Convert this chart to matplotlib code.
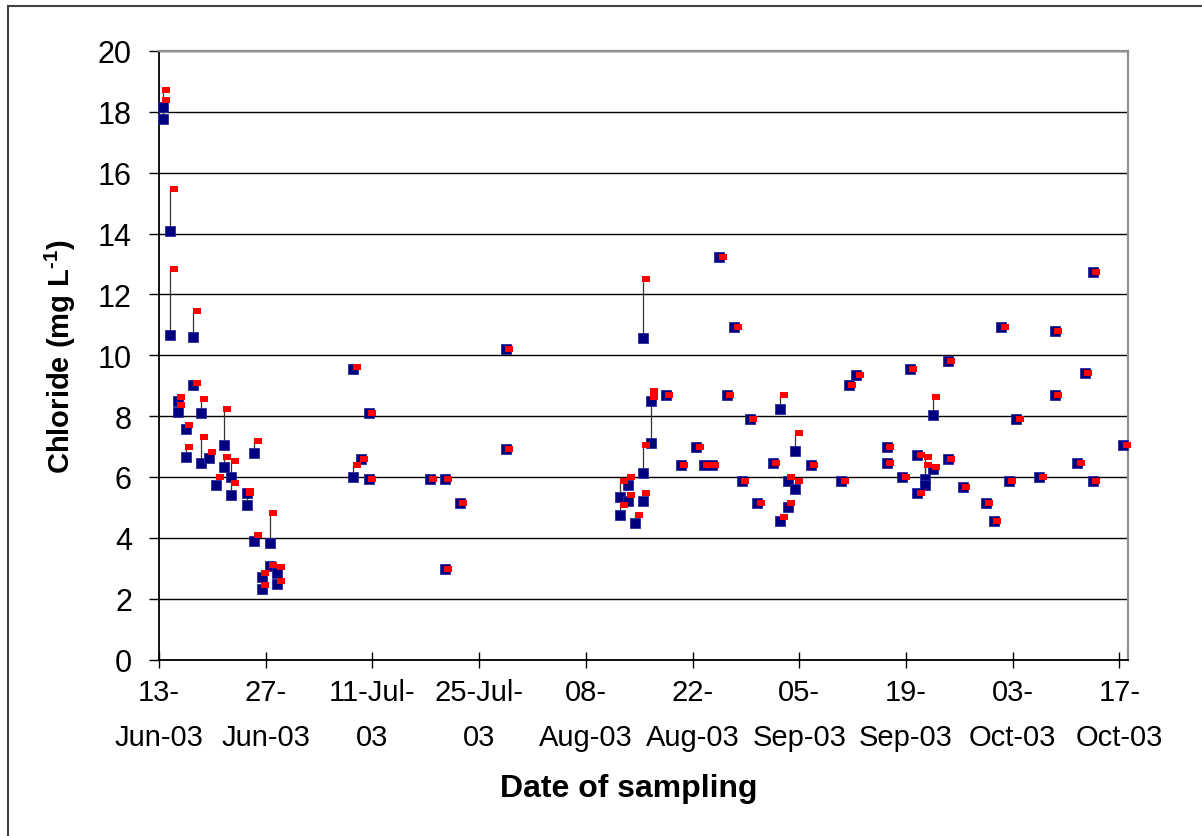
import matplotlib
matplotlib.use("Agg")
import matplotlib.pyplot as plt
import matplotlib.transforms as mtransforms
from matplotlib.patches import Rectangle

plt.rcParams["font.family"] = ["Liberation Sans", "DejaVu Sans"]
plt.rcParams["mathtext.fontset"] = "custom"
plt.rcParams["mathtext.rm"] = "Liberation Sans:bold"
plt.rcParams["mathtext.bf"] = "Liberation Sans:bold"

# days after 13-Jun-03, chloride of the two replicate sets (mg/L)
sample_day = [0.5, 0.5, 1.5, 1.5, 2.5, 2.5, 3.5, 3.5, 4.5, 4.5,
              5.5, 5.5, 6.5, 7.5, 8.5, 8.5, 9.5, 9.5, 11.5, 11.5,
              12.5, 12.5, 13.5, 13.5, 14.5, 14.5, 15.5, 15.5,
              25.5, 25.5, 26.5, 27.5, 27.5, 35.5, 37.5, 37.5, 39.5, 45.5, 45.5,
              60.5, 60.5, 61.5, 61.5, 62.5, 63.5, 63.5, 63.5, 64.5, 64.5,
              66.5, 68.5, 70.5, 71.5, 72.5, 73.5, 74.5, 75.5, 76.5, 77.5,
              78.5, 80.5, 81.5, 81.5, 82.5, 82.5, 83.5, 83.5, 85.5,
              89.5, 90.5, 91.5, 95.5, 95.5, 97.5, 98.5, 99.5, 99.5,
              100.5, 100.5, 101.5, 101.5, 103.5, 103.5, 105.5, 108.5, 109.5,
              110.5, 111.5, 112.5, 115.5, 117.5, 117.5, 120.5, 121.5,
              122.5, 122.5, 126.5]
cl_a = [18.15, 17.75, 14.08, 10.65, 8.48, 8.15, 7.58, 6.66, 10.59, 9.02,
        8.09, 6.45, 6.61, 5.73, 7.04, 6.33, 6.00, 5.40, 5.46, 5.08,
        6.78, 3.89, 2.72, 2.31, 3.82, 3.08, 2.83, 2.47,
        9.54, 6.00, 6.59, 8.09, 5.93, 5.93, 5.93, 2.97, 5.14, 10.20, 6.92,
        5.34, 4.75, 5.73, 5.20, 4.48, 10.58, 6.12, 5.20, 8.50, 7.10,
        8.69, 6.39, 6.98, 6.39, 6.39, 13.22, 8.69, 10.92, 5.87, 7.90,
        5.14, 6.46, 8.22, 4.55, 5.87, 5.01, 6.85, 5.60, 6.39,
        5.87, 9.02, 9.35, 6.98, 6.46, 6.00, 9.55, 6.72, 5.47,
        5.93, 5.73, 8.03, 6.26, 9.81, 6.59, 5.67, 5.14, 4.55,
        10.92, 5.87, 7.90, 6.00, 10.79, 8.69, 6.46, 9.41,
        12.75, 5.87, 7.05]
cl_b = [18.40, 18.73, 15.45, 12.82, 8.62, 8.36, 7.70, 6.97, 11.44, 9.08,
        8.55, 7.30, 6.81, 5.99, 8.22, 6.64, 6.51, 5.80, 5.55, 5.46,
        7.18, 4.09, 2.84, 2.46, 4.81, 3.10, 3.04, 2.58,
        9.60, 6.39, 6.60, 8.09, 5.93, 5.93, 5.93, 2.97, 5.14, 10.20, 6.92,
        5.87, 5.07, 6.00, 5.40, 4.75, 12.50, 7.05, 5.47, 8.83, 8.63,
        8.69, 6.39, 6.98, 6.39, 6.39, 13.22, 8.69, 10.92, 5.87, 7.90,
        5.14, 6.46, 8.69, 4.67, 6.00, 5.14, 7.44, 5.87, 6.39,
        5.87, 9.02, 9.35, 6.98, 6.46, 6.00, 9.55, 6.72, 5.47,
        6.65, 6.39, 8.62, 6.33, 9.81, 6.59, 5.67, 5.14, 4.55,
        10.92, 5.87, 7.90, 6.00, 10.79, 8.69, 6.46, 9.41,
        12.75, 5.87, 7.05]

tick_days = [0, 14, 28, 42, 56, 70, 84, 98, 112, 126]
tick_labels = ["13-\nJun-03", "27-\nJun-03", "11-Jul-\n03", "25-Jul-\n03",
               "08-\nAug-03", "22-\nAug-03", "05-\nSep-03", "19-\nSep-03",
               "03-\nOct-03", "17-\nOct-03"]

fig = plt.figure(figsize=(12.02, 8.37), dpi=100)
ax = fig.add_axes([159 / 1202, 1 - 660.5 / 837, (1127.7 - 159) / 1202, (660.5 - 52) / 837])

# thin connectors between the replicates
ax.vlines(sample_day, cl_a, cl_b, colors="#333333", linewidth=0.9, zorder=3)
ax.plot(sample_day, cl_a, linestyle="none", marker="s", markersize=6.9,
        color="#000080", markeredgecolor="#2a2a9a", markeredgewidth=0.6,
        zorder=4, clip_on=False)
red_shift = mtransforms.offset_copy(ax.transData, fig=fig, x=3.4, y=0, units="dots")
red_mark = [(-1, -0.7), (1, -0.7), (1, 0.7), (-1, 0.7), (-1, -0.7)]
ax.plot(sample_day, cl_b, linestyle="none", marker=red_mark, markersize=5.8,
        color="#ff0000", markeredgewidth=0, transform=red_shift, zorder=5, clip_on=False)

ax.set_xlim(0, 127.1)
ax.set_ylim(0, 20)
ax.set_yticks(range(0, 21, 2))
ax.set_xticks(tick_days)
ax.set_xticklabels(tick_labels, linespacing=1.75)
ax.yaxis.grid(True, color="black", linewidth=1.0)
ax.set_axisbelow(True)

ax.tick_params(axis="y", direction="out", length=7.5, width=1, labelsize=22, pad=12)
ax.tick_params(axis="x", direction="inout", length=11, width=1, labelsize=21, pad=8)
ax.spines["left"].set_linewidth(1.3)
ax.spines["bottom"].set_linewidth(1.3)
for side in ("top", "right"):
    ax.spines[side].set_color("#909090")
    ax.spines[side].set_linewidth(1.6)

fig.text(60 / 1202, 1 - 357 / 837, r"Chloride (mg L$^{\text{-1}}$)", rotation=90,
         ha="center", va="center", fontsize=21, fontweight="bold")
fig.text(629 / 1202, 1 - 789 / 837, "Date of sampling", ha="center", va="center",
         fontsize=23, fontweight="bold")

# outer chart frame
fig.patches.append(Rectangle((7.5 / 1202, -0.1), 1.2, 1 - 6.5 / 837 + 0.1,
                             transform=fig.transFigure, fill=False,
                             edgecolor="#404040", linewidth=1.5))

fig.savefig("out.png", dpi=100)
